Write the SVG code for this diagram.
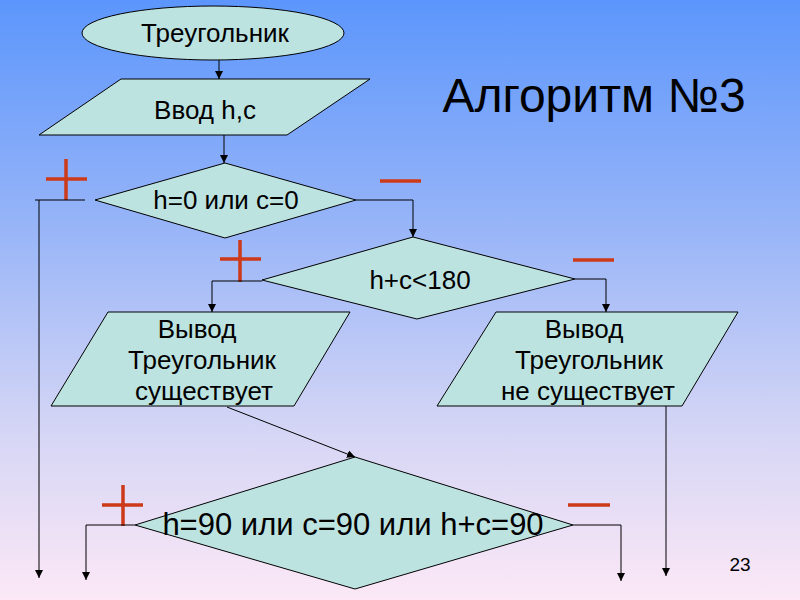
<svg xmlns="http://www.w3.org/2000/svg" width="800" height="600" viewBox="0 0 800 600">
<defs>
<linearGradient id="bg" x1="0" y1="0" x2="0" y2="1">
<stop offset="0" stop-color="#5c96fc"/>
<stop offset="0.35" stop-color="#93b2f8"/>
<stop offset="0.7" stop-color="#d2d4f5"/>
<stop offset="1" stop-color="#fce8f6"/>
</linearGradient>
<marker id="ah" viewBox="0 0 8 8" refX="8" refY="4" markerWidth="8" markerHeight="8" markerUnits="userSpaceOnUse" orient="auto">
<path d="M0,0 L8,4 L0,8 Z" fill="#000"/>
</marker>
<style>
.shape{fill:#bde3e1;stroke:#000;stroke-width:1}
.t{font-family:"Liberation Sans",Arial,sans-serif;fill:#000;text-anchor:middle}
.c{fill:none;stroke:#000;stroke-width:1;marker-end:url(#ah)}
.l{fill:none;stroke:#000;stroke-width:1}
.sign{stroke:#cc3a1a;stroke-width:3.5;fill:none}
</style>
</defs>
<rect width="800" height="600" fill="url(#bg)"/>

<text class="t" x="594" y="112" font-size="48">Алгоритм №3</text>
<text class="t" x="740" y="571" font-size="19">23</text>

<g id="start">
<ellipse class="shape" cx="213" cy="33" rx="131" ry="27"/>
<text class="t" x="215" y="42" font-size="26">Треугольник</text>
</g>
<g id="input">
<polygon class="shape" points="121,79 370,79 287,135 39,135"/>
<text class="t" x="205" y="119" font-size="26">Ввод h,c</text>
</g>
<g id="cond1">
<polygon class="shape" points="225,163 356,200 225,238 95,200"/>
<text class="t" x="226" y="209" font-size="26">h=0 или c=0</text>
</g>
<g id="cond2">
<polygon class="shape" points="413,237 575,279 417,319 262,280"/>
<text class="t" x="420" y="289" font-size="26">h+c&lt;180</text>
</g>
<g id="out-yes">
<polygon class="shape" points="108,312 350,312 294,406 51,406"/>
<text class="t" x="197" y="338" font-size="26">Вывод</text>
<text class="t" x="202" y="369" font-size="26">Треугольник</text>
<text class="t" x="204" y="400" font-size="26">существует</text>
</g>
<g id="out-no">
<polygon class="shape" points="496,312 738,312 682,406 437,406"/>
<text class="t" x="584" y="338" font-size="26">Вывод</text>
<text class="t" x="589" y="369" font-size="26">Треугольник</text>
<text class="t" x="588" y="400" font-size="26">не существует</text>
</g>
<g id="cond3">
<polygon class="shape" points="355,457 573,525 355,589 135,525"/>
<text class="t" x="353" y="535" font-size="31">h=90 или c=90 или h+c=90</text>
</g>

<g id="signs">
<path class="sign" d="M46,179 H87 M66,159 V200"/>
<path class="sign" d="M380,181 H421"/>
<path class="sign" d="M220,259 H261 M240,240 V282"/>
<path class="sign" d="M573,260 H614"/>
<path class="sign" d="M102,505 H143 M123,485 V526"/>
<path class="sign" d="M568,505 H610"/>
</g>

<g id="connectors">
<path class="c" d="M219,60 V79"/>
<path class="c" d="M224,135 V163"/>
<path class="l" d="M35,200 H85"/>
<path class="c" d="M39,200 V578"/>
<path class="c" d="M356,200 H413 V237"/>
<path class="c" d="M262,281 H212 V312"/>
<path class="c" d="M575,279 H606 V312"/>
<path class="c" d="M227,407 L355,457"/>
<path class="c" d="M135,525 H86 V580"/>
<path class="c" d="M573,525 H621 V581"/>
<path class="c" d="M666,406 V576"/>
</g>
</svg>
